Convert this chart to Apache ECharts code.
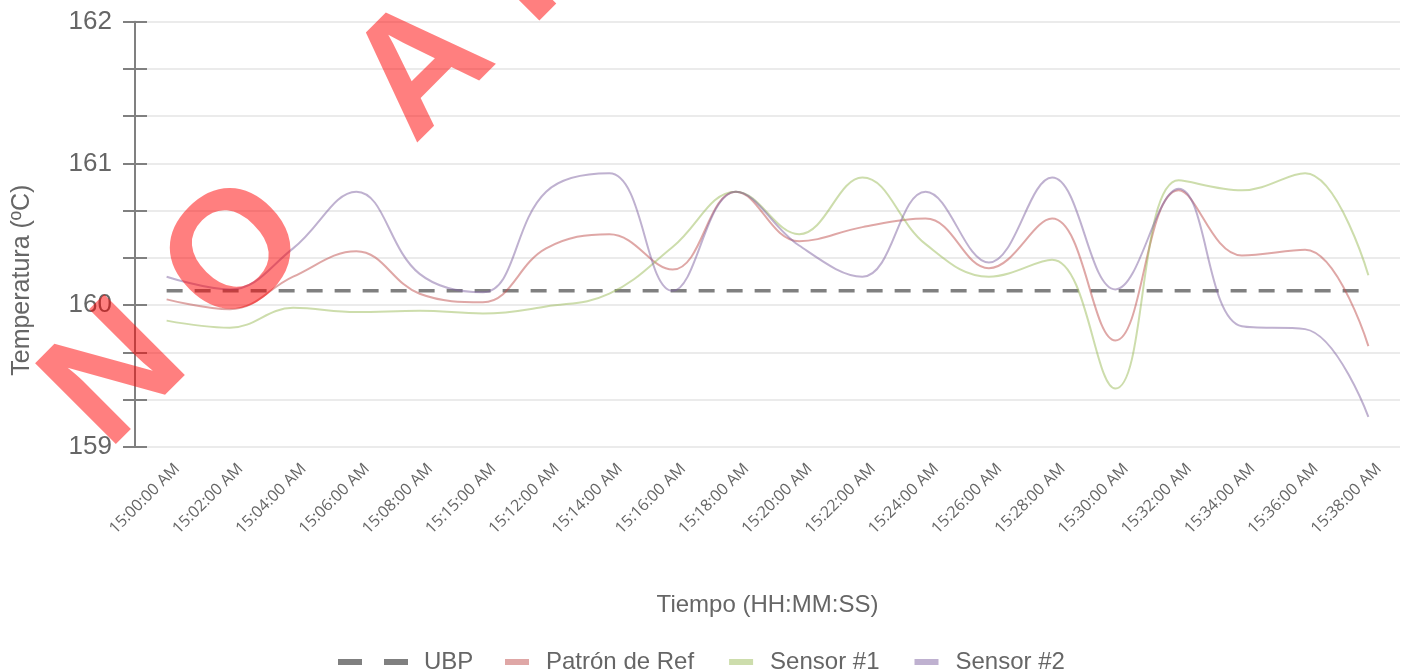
<!DOCTYPE html>
<html>
<head>
<meta charset="utf-8">
<script src="https://cdn.jsdelivr.net/npm/echarts@6/dist/echarts.min.js"></script>
<style>
  html, body { margin: 0; padding: 0; background: #fff; }
  #chart { width: 1412px; height: 672px; }
</style>
</head>
<body>
<div id="chart"></div>
<script>
var categories = ['15:00:00 AM', '15:02:00 AM', '15:04:00 AM', '15:06:00 AM', '15:08:00 AM',
  '15:15:00 AM', '15:12:00 AM', '15:14:00 AM', '15:16:00 AM', '15:18:00 AM',
  '15:20:00 AM', '15:22:00 AM', '15:24:00 AM', '15:26:00 AM', '15:28:00 AM',
  '15:30:00 AM', '15:32:00 AM', '15:34:00 AM', '15:36:00 AM', '15:38:00 AM'];

var ubp = [160.1, 160.1, 160.1, 160.1, 160.1, 160.1, 160.1, 160.1, 160.1, 160.1,
  160.1, 160.1, 160.1, 160.1, 160.1, 160.1, 160.1, 160.1, 160.1, 160.1];
var patronRef = [160.04, 159.97, 160.2, 160.38, 160.08, 160.02, 160.4, 160.5, 160.25, 160.8,
  160.45, 160.55, 160.61, 160.26, 160.61, 159.75, 160.81, 160.35, 160.39, 159.71];
var sensor1 = [159.89, 159.84, 159.98, 159.95, 159.96, 159.94, 159.99, 160.08, 160.41, 160.8,
  160.5, 160.9, 160.43, 160.2, 160.32, 159.41, 160.88, 160.81, 160.93, 160.21];
var sensor2 = [160.2, 160.11, 160.4, 160.8, 160.22, 160.09, 160.8, 160.93, 160.1, 160.8,
  160.42, 160.2, 160.8, 160.3, 160.9, 160.11, 160.82, 159.85, 159.83, 159.21];

var yMin = 159, yMax = 162;
var watermark = 'NO APLICA';

var textColor = '#666666';
var labelFont = '"Liberation Sans", Arial, sans-serif';

// watermark letters, spaced out along a 45 degree line
var wmFont = 'bold 166px "Liberation Sans", Arial, sans-serif';
var wmSpacing = 46;
var ctx = document.createElement('canvas').getContext('2d');
ctx.font = wmFont;
var wmGraphics = [];
var dist = 0;
for (var i = 0; i < watermark.length; i++) {
  var w = ctx.measureText(watermark[i]).width;
  if (i > 0) {
    dist += ctx.measureText(watermark[i - 1]).width / 2 + wmSpacing + w / 2;
  }
  if (watermark[i] === ' ') continue;
  wmGraphics.push({
    type: 'text',
    x: 118 + dist * Math.SQRT1_2,
    y: 377 - dist * Math.SQRT1_2,
    rotation: Math.PI / 4,
    z: 100,
    silent: true,
    style: {
      text: watermark[i],
      font: wmFont,
      fill: 'rgba(255, 0, 0, 0.5)',
      textAlign: 'center',
      textVerticalAlign: 'middle'
    }
  });
}

var chart = echarts.init(document.getElementById('chart'));

var option = {
  animation: false,
  backgroundColor: '#fff',
  grid: { left: 135, right: 12, top: 21.7, bottom: 225.3, containLabel: false },
  legend: [{
    left: 338,
    top: 650,
    padding: 0,
    itemWidth: 70,
    itemHeight: 6,
    data: [{ name: 'UBP', icon: 'path://M0,0h24v6h-24z M46,0h24v6h-24z' }],
    itemStyle: { color: '#808080' },
    textStyle: { color: textColor, fontSize: 24, fontFamily: labelFont, padding: [0, 0, 0, 11] }
  }, {
    left: 505,
    top: 650,
    padding: 0,
    itemWidth: 24,
    itemHeight: 6,
    itemGap: 35,
    icon: 'rect',
    data: ['Patrón de Ref', 'Sensor #1', 'Sensor #2'],
    textStyle: { color: textColor, fontSize: 24, fontFamily: labelFont, padding: [0, 0, 0, 12] }
  }],
  xAxis: {
    type: 'category',
    data: categories,
    boundaryGap: true,
    axisLine: { show: false },
    axisTick: { show: false },
    axisLabel: {
      rotate: 45,
      margin: 9,
      interval: 0,
      verticalAlign: 'top',
      lineHeight: 30,
      color: textColor,
      fontSize: 16,
      fontFamily: '"Open Sans", sans-serif'
    },
    name: 'Tiempo (HH:MM:SS)',
    nameLocation: 'middle',
    nameGap: 147,
    nameTextStyle: { color: textColor, fontSize: 24, fontFamily: labelFont }
  },
  yAxis: [{
    type: 'value',
    min: yMin,
    max: yMax,
    interval: 1 / 3,
    axisLine: { show: true, lineStyle: { color: '#808080', width: 2 } },
    axisTick: { show: true, length: 12, lineStyle: { color: '#808080', width: 2 } },
    axisLabel: {
      margin: 23,
      color: textColor,
      fontSize: 26,
      fontFamily: labelFont,
      formatter: function (v) {
        var r = Math.round(v);
        return Math.abs(v - r) < 1e-6 ? String(r) : '';
      }
    },
    splitLine: { show: true, lineStyle: { color: '#ebebeb', width: 2 } },
    name: 'Temperatura (ºC)',
    nameLocation: 'middle',
    nameGap: 100,
    nameTextStyle: { color: textColor, fontSize: 25, fontFamily: labelFont, padding: [0, 92, 0, 0] }
  }, {
    // inner half of the crossing ticks
    type: 'value',
    position: 'left',
    min: yMin,
    max: yMax,
    interval: 1 / 3,
    axisLine: { show: false },
    axisTick: { show: true, inside: true, length: 12, lineStyle: { color: '#808080', width: 2 } },
    axisLabel: { show: false },
    splitLine: { show: false }
  }],
  series: [{
    name: 'UBP',
    type: 'line',
    data: ubp,
    symbol: 'none',
    z: 3,
    itemStyle: { color: '#808080' },
    lineStyle: { color: '#808080', width: 3.5, type: [16, 12] }
  }, {
    name: 'Patrón de Ref',
    type: 'line',
    data: patronRef,
    symbol: 'none',
    smooth: 0.4,
    itemStyle: { color: 'rgba(192, 80, 77, 0.5)' },
    lineStyle: { color: 'rgba(192, 80, 77, 0.5)', width: 2 }
  }, {
    name: 'Sensor #1',
    type: 'line',
    data: sensor1,
    symbol: 'none',
    smooth: 0.4,
    itemStyle: { color: 'rgba(155, 187, 89, 0.5)' },
    lineStyle: { color: 'rgba(155, 187, 89, 0.5)', width: 2 }
  }, {
    name: 'Sensor #2',
    type: 'line',
    data: sensor2,
    symbol: 'none',
    smooth: 0.4,
    itemStyle: { color: 'rgba(128, 100, 162, 0.5)' },
    lineStyle: { color: 'rgba(128, 100, 162, 0.5)', width: 2 }
  }],
  graphic: wmGraphics
};

chart.setOption(option);
</script>
</body>
</html>
